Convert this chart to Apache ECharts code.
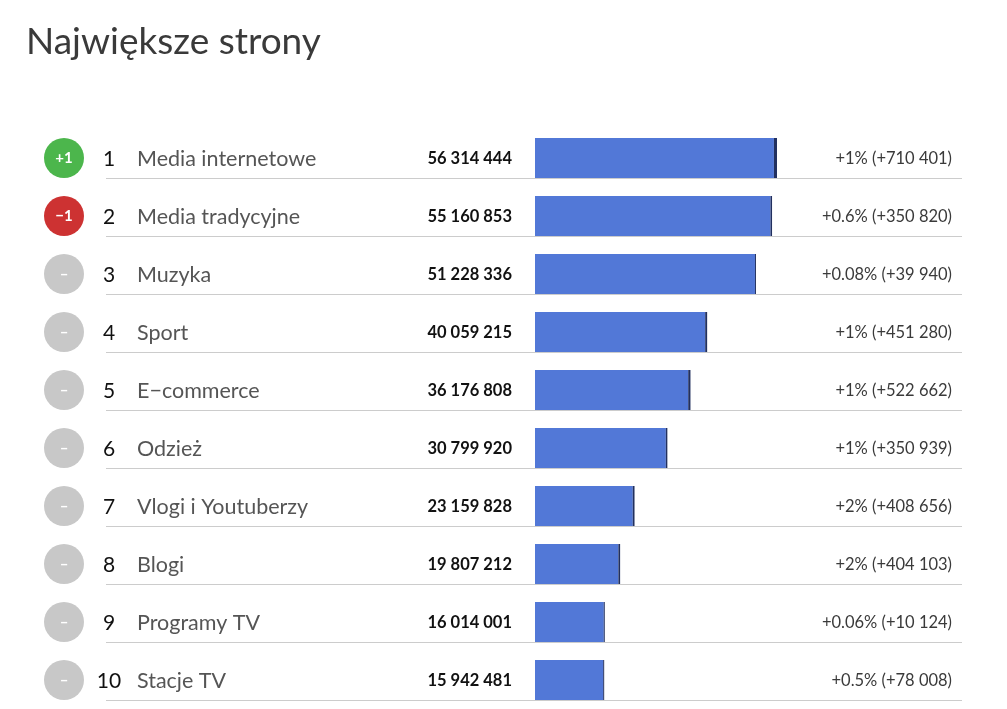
<!DOCTYPE html>
<html>
<head>
<meta charset="utf-8">
<script src="https://cdn.jsdelivr.net/npm/echarts@6/dist/echarts.min.js"></script>
<style>
  html, body { margin: 0; padding: 0; background: #fff; }
  #chart { width: 1007px; height: 709px; }
</style>
</head>
<body>
<div id="chart"></div>
<script>
// rows, top to bottom
const names = ['Media internetowe', 'Media tradycyjne', 'Muzyka', 'Sport', 'E\u2212commerce',
  'Odzież', 'Vlogi i Youtuberzy', 'Blogi', 'Programy TV', 'Stacje TV'];
const values = [56314444, 55160853, 51228336, 40059215, 36176808,
  30799920, 23159828, 19807212, 16014001, 15942481];
const changes = [710401, 350820, 39940, 451280, 522662, 350939, 408656, 404103, 10124, 78008];
const changePct = ['+1%', '+0.6%', '+0.08%', '+1%', '+1%', '+1%', '+2%', '+2%', '+0.06%', '+0.5%'];
const moves = [1, -1, 0, 0, 0, 0, 0, 0, 0, 0];

const FONT = 'Lato, "Noto Sans", sans-serif';

function fmt(n) {
  return String(n).replace(/\B(?=(\d{3})+(?!\d))/g, ' ');
}

const prev = values.map((v, i) => v - changes[i]);
const rows = names.map((n, i) => [0, i]);

const chart = echarts.init(document.getElementById('chart'));

chart.setOption({
  animation: false,
  title: {
    text: 'Największe strony',
    left: 21, top: 19,
    textStyle: { fontFamily: FONT, fontSize: 37, fontWeight: 'normal', color: '#3a3a3a' }
  },
  grid: { left: 535, width: 242, top: 129, height: 580 },
  xAxis: { type: 'value', min: 0, max: values[0], show: false },
  yAxis: { type: 'category', inverse: true, data: names, show: false },
  series: [
    {
      type: 'bar', stack: 'v', barWidth: 40, data: prev,
      itemStyle: { color: '#5278d7' }, silent: true
    },
    {
      type: 'bar', stack: 'v', barWidth: 40, data: changes, barMinHeight: 1,
      itemStyle: { color: '#22305f' }, silent: true
    },
    {
      type: 'custom',
      data: rows,
      silent: true,
      renderItem: function (params, api) {
        const i = api.value(1);
        const y = api.coord([0, i])[1];
        const m = moves[i];
        const badgeColor = m > 0 ? '#4cb64c' : (m < 0 ? '#cd3232' : '#c8c8c8');
        const badgeText = m > 0 ? '+' + m : (m < 0 ? '\u2212' + (-m) : '\u2013');
        return {
          type: 'group',
          children: [
            { type: 'line', shape: { x1: 106, y1: y + 20.5, x2: 962, y2: y + 20.5 },
              style: { stroke: '#cccccc', lineWidth: 1 } },
            { type: 'circle', shape: { cx: 64, cy: y, r: 20 }, style: { fill: badgeColor } },
            { type: 'text', x: 64, y: y,
              style: { text: badgeText, fill: '#fff', font: 'bold 15px ' + FONT, align: 'center', verticalAlign: 'middle' } },
            { type: 'text', x: 109, y: y + 1,
              style: { text: String(i + 1), fill: '#111', font: '21px ' + FONT, align: 'center', verticalAlign: 'middle' } },
            { type: 'text', x: 137, y: y + 1,
              style: { text: names[i], fill: '#555', font: '21.5px ' + FONT, align: 'left', verticalAlign: 'middle' } },
            { type: 'text', x: 512, y: y + 1,
              style: { text: fmt(values[i]), fill: '#111', font: 'bold 16.5px ' + FONT, align: 'right', verticalAlign: 'middle' } },
            { type: 'text', x: 952, y: y + 1,
              style: { text: changePct[i] + ' (+' + fmt(changes[i]) + ')', fill: '#3a3a3a', font: '16.5px ' + FONT, align: 'right', verticalAlign: 'middle' } }
          ]
        };
      }
    }
  ]
});
</script>
</body>
</html>
